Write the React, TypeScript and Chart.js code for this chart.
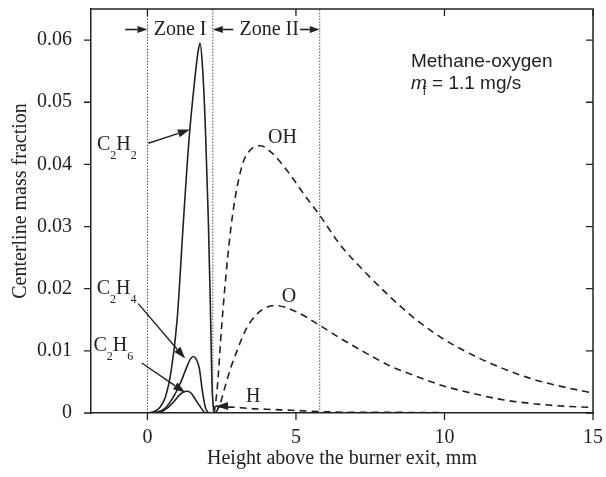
import React, { useEffect, useRef } from 'react';
import { Chart, registerables } from 'chart.js';

Chart.register(...registerables);

// ---- axes ----
const X_MIN = -1.9;
const X_MAX = 15;
const Y_MIN = 0;
const Y_MAX = 0.065;
const X_TICK_LABELS = [0, 5, 10, 15];
const Y_TICK_LABELS = [0, 0.01, 0.02, 0.03, 0.04, 0.05, 0.06];
const X_TITLE = 'Height above the burner exit, mm';
const Y_TITLE = '    Centerline mass fraction';

// ---- series (height in mm, mass fraction) ----
const C2H2_X = [0, 0.2, 0.4, 0.6, 0.8, 1.0, 1.2, 1.4, 1.6, 1.7, 1.77, 1.85, 1.95, 2.05, 2.12, 2.17, 2.22, 2.27];
const C2H2_Y = [0, 0.0002, 0.0008, 0.0025, 0.0068, 0.015, 0.03, 0.044, 0.054, 0.058, 0.0595, 0.056, 0.046, 0.031, 0.017, 0.005, 0.001, 0];

const C2H4_X = [0, 0.3, 0.6, 0.9, 1.1, 1.3, 1.45, 1.55, 1.65, 1.75, 1.85, 1.95, 2.05];
const C2H4_Y = [0, 0.0001, 0.0008, 0.0028, 0.0047, 0.0071, 0.0087, 0.0091, 0.0086, 0.0071, 0.0035, 0.0009, 0];

const C2H6_X = [0, 0.4, 0.7, 0.9, 1.1, 1.3, 1.45, 1.6, 1.75, 1.9, 2.0];
const C2H6_Y = [0, 0.0001, 0.0009, 0.0019, 0.003, 0.0035, 0.0033, 0.0023, 0.0012, 0.0002, 0];

const OH_X = [2.25, 2.35, 2.5, 2.7, 2.9, 3.2, 3.5, 3.8, 4.2, 4.7, 5.3, 5.8, 6.5, 7.3, 8.1, 9, 10, 11, 12, 13, 14, 15];
const OH_Y = [0, 0.004, 0.014, 0.025, 0.033, 0.04, 0.0425, 0.043, 0.0418, 0.039, 0.035, 0.0318, 0.027, 0.0228, 0.019, 0.0152, 0.0118, 0.0092, 0.0071, 0.0054, 0.0042, 0.0032];

const O_X = [2.3, 2.45, 2.6, 2.8, 3.0, 3.3, 3.7, 4.3, 5.0, 5.8, 6.5, 7.3, 8.2, 9, 10, 11, 12, 13, 14, 15];
const O_Y = [0, 0.0015, 0.004, 0.0072, 0.0098, 0.0133, 0.016, 0.0173, 0.0163, 0.0141, 0.012, 0.0098, 0.0075, 0.006, 0.0043, 0.0031, 0.0021, 0.0015, 0.0011, 0.0009];

const H_X = [2.3, 2.5, 3, 3.5, 4, 5, 6, 7, 8, 10, 12, 15];
const H_Y = [0.0011, 0.001, 0.0009, 0.0007, 0.0006, 0.0004, 0.0002, 0.0001, 0.0001, 0.00005, 0, 0];

// zone boundaries (mm)
const ZONE_BOUNDS = [0, 2.2, 5.8];

// ---- annotations (data coordinates) ----
const SPECIES_LABELS = [
  { text: 'C2H2', x: -1.7, y: 0.0423 },
  { text: 'C2H4', x: -1.71, y: 0.0192 },
  { text: 'C2H6', x: -1.82, y: 0.00998 },
  { text: 'OH', x: 4.06, y: 0.0434 },
  { text: 'O', x: 4.52, y: 0.0179 },
  { text: 'H', x: 3.32, y: 0.00177 },
];
const LABEL_ARROWS = [
  { x1: 0.03, y1: 0.0434, x2: 1.43, y2: 0.0456 },
  { x1: -0.31, y1: 0.0176, x2: 1.27, y2: 0.00876 },
  { x1: -0.19, y1: 0.00805, x2: 1.27, y2: 0.00328 },
  { x1: 2.6, y1: 0.00112, x2: 2.31, y2: 0.00108 },
];
const ZONE_TEXT = [
  { text: 'Zone I', x: 1.1 },
  { text: 'Zone II', x: 4.1 },
];
const ZONE_TEXT_Y = 0.0608;
const ZONE_ARROW_Y = 0.0617;
const ZONE_ARROWS = [
  { x1: -0.75, x2: 0 },
  { x1: 2.89, x2: 2.2 },
  { x1: 5.14, x2: 5.8 },
];
const NOTE_X = 8.87;
const NOTE_LINE1_Y = 0.0557;
const NOTE_LINE2_Y = 0.0521;
const NOTE_LINE1 = 'Methane-oxygen';
const NOTE_SYMBOL = 'm';
const NOTE_SUB = 'f';
const NOTE_REST = ' = 1.1 mg/s';

const SERIF = "'Liberation Serif', 'Times New Roman', serif";
const SANS = "'Liberation Sans', Arial, sans-serif";
const INK = '#222222';

const pts = (xs: number[], ys: number[]) => xs.map((x, i) => ({ x, y: ys[i] }));

function drawChem(ctx: CanvasRenderingContext2D, text: string, x: number, y: number, size: number) {
  let cx = x;
  for (const ch of text) {
    const sub = /[0-9]/.test(ch);
    ctx.font = `${sub ? Math.round(size * 0.6) : size}px ${SERIF}`;
    ctx.fillText(ch, cx, sub ? y + size * 0.45 : y);
    cx += ctx.measureText(ch).width;
  }
}

function drawArrow(ctx: CanvasRenderingContext2D, x1: number, y1: number, x2: number, y2: number, head: number, half: number) {
  const a = Math.atan2(y2 - y1, x2 - x1);
  const bx = x2 - head * Math.cos(a);
  const by = y2 - head * Math.sin(a);
  ctx.beginPath();
  ctx.moveTo(x1, y1);
  ctx.lineTo(bx, by);
  ctx.stroke();
  ctx.beginPath();
  ctx.moveTo(x2, y2);
  ctx.lineTo(bx + half * Math.sin(a), by - half * Math.cos(a));
  ctx.lineTo(bx - half * Math.sin(a), by + half * Math.cos(a));
  ctx.closePath();
  ctx.fill();
}

const near = (v: number, list: number[]) => list.some((t) => Math.abs(v - t) < 1e-9);

const decorPlugin = {
  id: 'decor',
  afterDraw(chart: any) {
    const { ctx, chartArea: a, scales } = chart;
    const xs = scales.x;
    const ys = scales.y;
    const X = (v: number) => xs.getPixelForValue(v);
    const Y = (v: number) => ys.getPixelForValue(v);
    ctx.save();
    ctx.strokeStyle = INK;
    ctx.fillStyle = INK;

    // frame top/right
    ctx.lineWidth = 1.5;
    ctx.beginPath();
    ctx.moveTo(a.left, a.top);
    ctx.lineTo(a.right, a.top);
    ctx.lineTo(a.right, a.bottom);
    ctx.stroke();

    // ticks
    ctx.lineWidth = 1.3;
    for (const t of xs.ticks) {
      const v = t.value;
      if (Math.abs(v - Math.round(v)) > 1e-6) continue;
      const len = Math.round(v) % 5 === 0 ? 7 : 5;
      const p = X(v);
      ctx.beginPath();
      ctx.moveTo(p, a.bottom);
      ctx.lineTo(p, a.bottom + len);
      ctx.moveTo(p, a.top);
      ctx.lineTo(p, a.top + len);
      ctx.stroke();
    }
    for (const t of ys.ticks) {
      const v = t.value;
      const k = v / 0.005;
      if (Math.abs(k - Math.round(k)) > 1e-6) continue;
      const len = Math.round(k) % 2 === 0 ? 7 : 5;
      const p = Y(v);
      ctx.beginPath();
      ctx.moveTo(a.left, p);
      ctx.lineTo(a.left - len, p);
      ctx.moveTo(a.right, p);
      ctx.lineTo(a.right - len, p);
      ctx.stroke();
    }

    // species labels and arrows
    ctx.textAlign = 'left';
    ctx.textBaseline = 'alphabetic';
    for (const l of SPECIES_LABELS) drawChem(ctx, l.text, X(l.x), Y(l.y), 20);
    ctx.lineWidth = 1.4;
    for (const r of LABEL_ARROWS) drawArrow(ctx, X(r.x1), Y(r.y1), X(r.x2), Y(r.y2), 12, 4);

    // zones
    ctx.font = `20px ${SERIF}`;
    ctx.textAlign = 'center';
    for (const z of ZONE_TEXT) ctx.fillText(z.text, X(z.x), Y(ZONE_TEXT_Y));
    ctx.lineWidth = 1.6;
    for (const z of ZONE_ARROWS) drawArrow(ctx, X(z.x1), Y(ZONE_ARROW_Y), X(z.x2), Y(ZONE_ARROW_Y), 10, 3.5);

    // note
    ctx.textAlign = 'left';
    ctx.font = `19px ${SANS}`;
    const nx = X(NOTE_X);
    ctx.fillText(NOTE_LINE1, nx, Y(NOTE_LINE1_Y));
    ctx.font = `italic 19px ${SANS}`;
    const y2 = Y(NOTE_LINE2_Y);
    ctx.fillText(NOTE_SYMBOL, nx, y2);
    const mw = ctx.measureText(NOTE_SYMBOL).width;
    ctx.font = `12px ${SANS}`;
    ctx.fillText(NOTE_SUB, nx + mw - 4, y2 + 6);
    ctx.font = `19px ${SANS}`;
    ctx.fillText(NOTE_REST, nx + mw, y2);
    ctx.restore();
  },
};

export default function App() {
  const ref = useRef<HTMLCanvasElement | null>(null);
  useEffect(() => {
    document.body.style.margin = '0';
    const canvas = ref.current;
    if (!canvas) return;
    const solid = { borderColor: INK, borderWidth: 1.6, pointRadius: 0, fill: false, cubicInterpolationMode: 'monotone' as const };
    const dashed = { ...solid, borderDash: [7, 5] };
    const zone = (v: number) => ({
      data: [{ x: v, y: Y_MIN }, { x: v, y: Y_MAX }],
      borderColor: '#555555',
      borderWidth: 1,
      borderDash: [1.5, 1.5],
      pointRadius: 0,
      tension: 0,
      fill: false,
    });
    const chart = new Chart(canvas, {
      type: 'line',
      data: {
        datasets: [
          { label: 'C2H2', data: pts(C2H2_X, C2H2_Y), ...solid },
          { label: 'C2H4', data: pts(C2H4_X, C2H4_Y), ...solid },
          { label: 'C2H6', data: pts(C2H6_X, C2H6_Y), ...solid },
          { label: 'OH', data: pts(OH_X, OH_Y), ...dashed },
          { label: 'O', data: pts(O_X, O_Y), ...dashed },
          { label: 'H', data: pts(H_X, H_Y), ...dashed },
          ...ZONE_BOUNDS.map(zone),
        ],
      },
      options: {
        responsive: false,
        animation: false,
        devicePixelRatio: 1,
        layout: { padding: { top: 9, right: 13, left: 0, bottom: 0 } },
        plugins: { legend: { display: false }, tooltip: { enabled: false } },
        scales: {
          x: {
            type: 'linear',
            position: 'bottom',
            min: X_MIN,
            max: X_MAX,
            grid: { display: false },
            border: { display: true, color: INK, width: 1.5 },
            ticks: {
              stepSize: 1,
              autoSkip: false,
              maxRotation: 0,
              padding: 5,
              color: INK,
              font: { family: SERIF, size: 20 },
              callback: (v: any) => (near(Number(v), X_TICK_LABELS) ? String(Math.round(Number(v))) : null),
            },
            title: {
              display: true,
              text: X_TITLE,
              color: INK,
              font: { family: SERIF, size: 20 },
              padding: { top: 0, bottom: 6 },
            },
            afterFit: (s: any) => {
              s.height = 64;
              s.paddingLeft = 0;
              s.paddingRight = 0;
            },
          },
          y: {
            type: 'linear',
            min: Y_MIN,
            max: Y_MAX,
            grid: { display: false },
            border: { display: true, color: INK, width: 1.5 },
            ticks: {
              stepSize: 0.005,
              autoSkip: false,
              padding: 11,
              color: INK,
              font: { family: SERIF, size: 20 },
              callback: (v: any) => {
                const n = Number(v);
                if (!near(n, Y_TICK_LABELS)) return null;
                return n === 0 ? '0' : n.toFixed(2);
              },
            },
            title: {
              display: true,
              text: Y_TITLE,
              color: INK,
              font: { family: SERIF, size: 20 },
              padding: { top: 9, bottom: 0 },
            },
            afterFit: (s: any) => {
              s.width = 91;
              s.paddingTop = 0;
              s.paddingBottom = 0;
            },
          },
        },
      },
      plugins: [decorPlugin],
    });
    return () => chart.destroy();
  }, []);
  return <canvas ref={ref} width={606} height={477} style={{ display: 'block' }} />;
}
